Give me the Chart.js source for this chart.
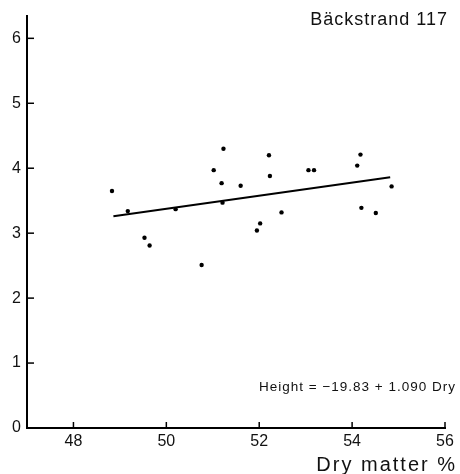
<!DOCTYPE html>
<html>
<head>
<meta charset="utf-8">
<script src="https://cdn.jsdelivr.net/npm/chart.js@4/dist/chart.umd.min.js"></script>
<style>
html,body{margin:0;padding:0;background:#fff;}
canvas{display:block;}
</style>
</head>
<body>
<canvas id="c" width="460" height="474"></canvas>
<script>
const dryMatter = [48.83, 49.17, 49.53, 49.64, 50.20, 50.76, 51.02, 51.23, 51.19, 51.21, 51.60, 51.95, 52.02, 52.21, 52.23, 52.48, 53.06, 53.18, 54.18, 54.11, 54.20, 54.51, 54.85];
const heightVals = [3.65, 3.34, 2.93, 2.81, 3.37, 2.51, 3.97, 4.30, 3.77, 3.47, 3.73, 3.04, 3.15, 4.20, 3.88, 3.32, 3.97, 3.97, 4.21, 4.04, 3.39, 3.31, 3.72];
const fitX = [48.86, 54.82];
const fitY = [3.26, 3.86];
const xTicks = [48, 50, 52, 54, 56];
const yTicks = [0, 1, 2, 3, 4, 5, 6];
const titleText = "Bäckstrand 117";
const equationText = "Height = −19.83 + 1.090 Dry";
const xAxisTitle = "Dry matter %";

const FONT = "'Liberation Sans', Arial, sans-serif";

const textPlugin = {
  id: 'texts',
  afterDraw(chart) {
    const ctx = chart.ctx;
    const area = chart.chartArea;
    const xs = chart.scales.x, ys = chart.scales.y;
    ctx.save();
    ctx.strokeStyle = '#000';
    ctx.lineWidth = 1.5;
    yTicks.forEach(v => {
      const y = ys.getPixelForValue(v);
      if (v === 0) return;
      ctx.beginPath(); ctx.moveTo(area.left, y); ctx.lineTo(area.left + 7, y); ctx.stroke();
    });
    xTicks.forEach(v => {
      const x = xs.getPixelForValue(v);
      ctx.beginPath(); ctx.moveTo(x, area.bottom); ctx.lineTo(x, area.bottom - 6); ctx.stroke();
    });
    ctx.fillStyle = '#111';
    ctx.textBaseline = 'middle';
    ctx.textAlign = 'right';
    ctx.letterSpacing = '1px';
    ctx.font = "18px " + FONT;
    ctx.fillText(titleText, 448, 20);
    ctx.letterSpacing = '1px';
    ctx.font = "13.5px " + FONT;
    ctx.fillText(equationText, 456, 387);
    ctx.letterSpacing = '2px';
    ctx.font = "20px " + FONT;
    ctx.fillText(xAxisTitle, 457, 465);
    ctx.restore();
  }
};

new Chart(document.getElementById('c'), {
  type: 'scatter',
  data: {
    datasets: [
      {
        data: dryMatter.map((x, i) => ({x: x, y: heightVals[i]})),
        pointRadius: 2.2,
        pointBackgroundColor: '#000',
        pointBorderColor: '#000',
        pointBorderWidth: 0,
        showLine: false
      },
      {
        type: 'line',
        data: fitX.map((x, i) => ({x: x, y: fitY[i]})),
        borderColor: '#000',
        borderWidth: 2,
        pointRadius: 0,
        fill: false
      }
    ]
  },
  options: {
    responsive: false,
    animation: false,
    devicePixelRatio: 1,
    layout: {padding: {left: 0, right: 15, top: 8, bottom: 0}},
    plugins: {legend: {display: false}, tooltip: {enabled: false}},
    scales: {
      x: {
        type: 'linear', min: 47, max: 56,
        grid: {display: false, drawTicks: false},
        border: {display: true, color: '#000', width: 2},
        ticks: {color: '#111', font: {size: 16, family: FONT}, padding: 4},
        afterBuildTicks(s) { s.ticks = xTicks.map(v => ({value: v})); },
        afterFit(s) { s.height = 46; }
      },
      y: {
        type: 'linear', min: 0, max: 6.35,
        grid: {display: false, drawTicks: false},
        border: {display: true, color: '#000', width: 2},
        ticks: {color: '#111', font: {size: 16, family: FONT}, padding: 6},
        afterBuildTicks(s) { s.ticks = yTicks.map(v => ({value: v})); },
        afterFit(s) { s.width = 27; }
      }
    }
  },
  plugins: [textPlugin]
});
</script>
</body>
</html>
